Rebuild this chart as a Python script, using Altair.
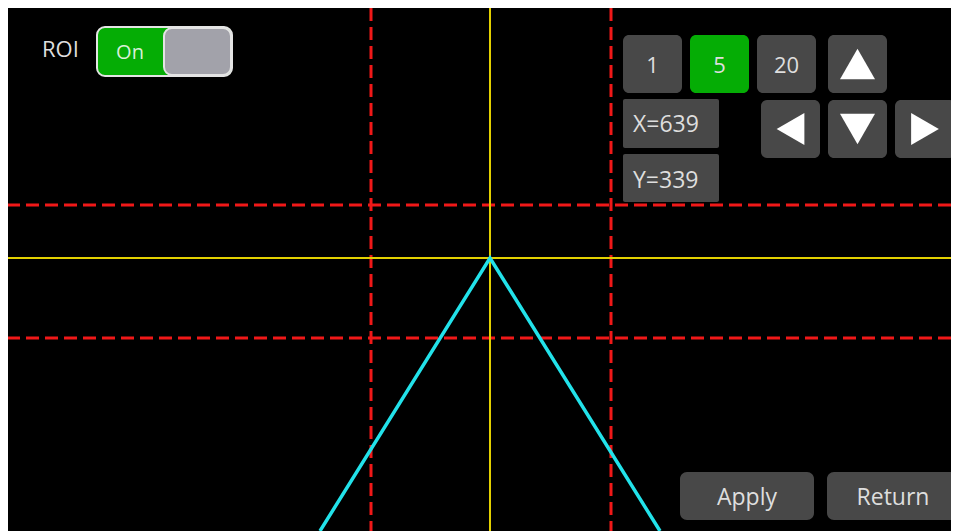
import altair as alt
import pandas as pd

# ---- values (screen coordinate space, px) ----
guide_x = [371, 611]            # red dashed vertical ROI bounds
guide_y = [205, 338]            # red dashed horizontal ROI bounds
cross_x = [490]                 # yellow crosshair
cross_y = [258]
beam_x = [320, 490, 660]        # cyan lines (apex at crosshair)
beam_y = [531, 258, 531]

roi_label = ["ROI"]
toggle_label = ["On"]
step_labels = ["1", "5", "20"]
selected_step = "5"
coord_labels = ["X=639", "Y=339"]
action_labels = ["Apply", "Return"]
arrow_shapes = ["triangle-up", "triangle-left", "triangle-down", "triangle-right"]

# ---- layout tables ----
step_x0 = [623, 690, 757]
step_x1 = [682, 749, 816]
step_y0 = [35, 35, 35]
step_y1 = [93, 93, 93]
arrow_x0 = [828, 761, 828, 895]
arrow_x1 = [887, 820, 887, 955]
arrow_y0 = [35, 100, 100, 100]
arrow_y1 = [93, 158, 158, 158]
coord_x0 = [623, 623]
coord_x1 = [719, 719]
coord_y0 = [99, 154]
coord_y1 = [148, 202]
action_x0 = [680, 827]
action_x1 = [814, 958]
action_y0 = [472, 472]
action_y1 = [520, 520]

XS = alt.Scale(domain=[8, 951], nice=False, zero=False)
YS = alt.Scale(domain=[8, 531], reverse=True, nice=False, zero=False)


def X(f="x"):
    return alt.X(f"{f}:Q", scale=XS, axis=None)


def Y(f="y"):
    return alt.Y(f"{f}:Q", scale=YS, axis=None)


RED = "#f01818"
YELLOW = "#e2d000"
CYAN = "#22e2ea"
BTN = "#484848"
GREEN = "#05ad05"
TXT = "#dedede"
FONT = "Open Sans"

# guides
red_v = alt.Chart(pd.DataFrame({"x": guide_x})).mark_rule(
    color=RED, strokeWidth=3, strokeDash=[13, 6]).encode(x=X())
red_h = alt.Chart(pd.DataFrame({"y": guide_y})).mark_rule(
    color=RED, strokeWidth=3, strokeDash=[13, 6]).encode(y=Y())
yel_v = alt.Chart(pd.DataFrame({"x": cross_x})).mark_rule(
    color=YELLOW, strokeWidth=2).encode(x=X())
yel_h = alt.Chart(pd.DataFrame({"y": cross_y})).mark_rule(
    color=YELLOW, strokeWidth=2).encode(y=Y())
beam = alt.Chart(pd.DataFrame({"x": beam_x, "y": beam_y, "o": [0, 1, 2]})).mark_line(
    color=CYAN, strokeWidth=3.5, clip=True).encode(x=X(), y=Y(), order="o:O")


def boxes(x0, x1, y0, y1, fills, radius):
    df = pd.DataFrame({"x": x0, "x2": x1, "y": y0, "y2": y1, "f": fills})
    return alt.Chart(df).mark_rect(cornerRadius=radius, clip=True).encode(
        x=X(), x2="x2:Q", y=Y(), y2="y2:Q",
        color=alt.Color("f:N", scale=None, legend=None))


step_fill = [GREEN if s == selected_step else BTN for s in step_labels]
step_boxes = boxes(step_x0, step_x1, step_y0, step_y1, step_fill, 6)
arrow_boxes = boxes(arrow_x0, arrow_x1, arrow_y0, arrow_y1, [BTN] * 4, 6)
coord_boxes = boxes(coord_x0, coord_x1, coord_y0, coord_y1, [BTN] * 2, 2)
action_boxes = boxes(action_x0, action_x1, action_y0, action_y1, [BTN] * 2, 7)

arrow_df = pd.DataFrame({
    "x": [(a + b) / 2 for a, b in zip(arrow_x0, arrow_x1)],
    "y": [(a + b) / 2 for a, b in zip(arrow_y0, arrow_y1)],
    "s": arrow_shapes,
    "sz": [1225, 1024, 1225, 1024],
})
arrows = alt.Chart(arrow_df).mark_point(filled=True, opacity=1, color="#ffffff").encode(
    x=X(), y=Y(),
    shape=alt.Shape("s:N", scale=None, legend=None),
    size=alt.Size("sz:Q", scale=None, legend=None))

# toggle
tog_outer = alt.Chart(pd.DataFrame({"x": [97], "x2": [232], "y": [27], "y2": [76]})).mark_rect(
    cornerRadius=8, color=GREEN, stroke="#e4e4e4", strokeWidth=2).encode(
    x=X(), x2="x2:Q", y=Y(), y2="y2:Q")
tog_knob = alt.Chart(pd.DataFrame({"x": [164], "x2": [231], "y": [28], "y2": [75]})).mark_rect(
    cornerRadius=8, color="#a2a2aa", stroke="#e4e4e4", strokeWidth=2).encode(
    x=X(), x2="x2:Q", y=Y(), y2="y2:Q")


def texts(labels, xs, ys, align, size, color=TXT):
    df = pd.DataFrame({"x": xs, "y": ys, "t": labels})
    return alt.Chart(df).mark_text(
        align=align, baseline="alphabetic", font=FONT, fontSize=size, color=color
    ).encode(x=X(), y=Y(), text="t:N")


step_text = texts(step_labels, [(a + b) / 2 for a, b in zip(step_x0, step_x1)],
                  [73, 73, 73], "center", 22)
coord_text = texts(coord_labels, [633, 633], [132, 188], "left", 23)
action_text = texts(action_labels, [747, 893], [505, 505], "center", 23)
roi_text = texts(roi_label, [42], [57], "left", 22)
on_text = texts(toggle_label, [130], [59], "center", 20, "#d8f0d8")

chart = alt.layer(
    red_v, red_h, yel_v, yel_h, beam,
    tog_outer, tog_knob,
    step_boxes, arrow_boxes, coord_boxes, action_boxes, arrows,
    step_text, coord_text, action_text, roi_text, on_text,
).properties(
    width=943, height=523, autosize="none",
    padding=0,
    background="#ffffff",
).configure_view(fill="#000000", stroke=None)

chart.save("out.html", embed_options={"renderer": "svg", "actions": False})
